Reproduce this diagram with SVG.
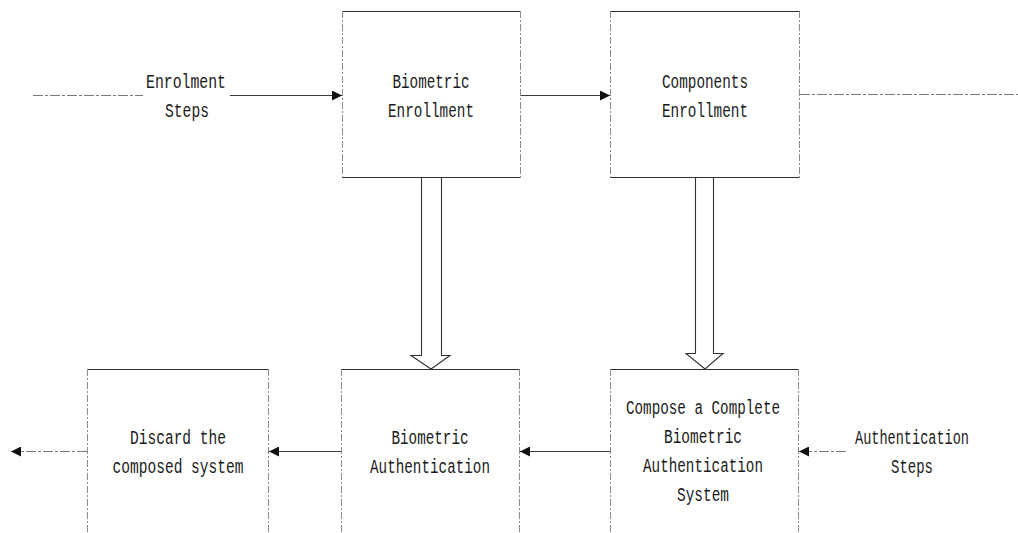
<svg xmlns="http://www.w3.org/2000/svg" width="1018" height="533" viewBox="0 0 1018 533">
  <style>
    .bg { fill: #ffffff; }
    .edge-h { fill: none; stroke: #2e2e2e; stroke-width: 1.2; }
    .edge-v { fill: none; stroke: #8c8c8c; stroke-width: 1; stroke-dasharray: 7 2 2 2; }
    .wire { fill: none; stroke: #3a3a3a; stroke-width: 1.1; }
    .wire-faint { fill: none; stroke: #7a7a7a; stroke-width: 1; stroke-dasharray: 10 2 3 2; }
    .hollow { fill: none; stroke: #333333; stroke-width: 1.1; }
    .lbl { font-family: "Liberation Mono", "DejaVu Sans Mono", monospace; font-size: 20.5px; fill: #1a1a1a; text-anchor: middle; }
  </style>
  <defs>
    <marker id="tri" viewBox="0 0 10 10" refX="10" refY="5" markerWidth="10" markerHeight="10" markerUnits="userSpaceOnUse" orient="auto">
      <path d="M0,0 L10,5 L0,10 z" fill="#111111"/>
    </marker>
  </defs>

  <rect class="bg" x="0" y="0" width="1018" height="533"/>

  <!-- process boxes -->
  <g id="biometric-enrollment">
    <path class="edge-h" d="M342,11.5 H521 M342,177.5 H521"/>
    <path class="edge-v" d="M342.5,11 V178 M520.5,11 V178"/>
    <text class="lbl" x="431" y="87.5" textLength="77" lengthAdjust="spacingAndGlyphs">Biometric</text>
    <text class="lbl" x="431" y="116.5" textLength="86" lengthAdjust="spacingAndGlyphs">Enrollment</text>
  </g>

  <g id="components-enrollment">
    <path class="edge-h" d="M610,11.5 H800 M610,177.5 H800"/>
    <path class="edge-v" d="M610.5,11 V178 M799.5,11 V178"/>
    <text class="lbl" x="705" y="87.5" textLength="86" lengthAdjust="spacingAndGlyphs">Components</text>
    <text class="lbl" x="705" y="116.5" textLength="86" lengthAdjust="spacingAndGlyphs">Enrollment</text>
  </g>

  <g id="discard-system">
    <path class="edge-h" d="M87,369.5 H269"/>
    <path class="edge-v" d="M87.5,369 V533 M268.5,369 V533"/>
    <text class="lbl" x="178" y="444" textLength="96" lengthAdjust="spacingAndGlyphs">Discard the</text>
    <text class="lbl" x="178" y="473" textLength="131" lengthAdjust="spacingAndGlyphs">composed system</text>
  </g>

  <g id="biometric-authentication">
    <path class="edge-h" d="M341,369.5 H520"/>
    <path class="edge-v" d="M341.5,369 V533 M519.5,369 V533"/>
    <text class="lbl" x="430" y="443.5" textLength="77" lengthAdjust="spacingAndGlyphs">Biometric</text>
    <text class="lbl" x="430" y="472.5" textLength="120" lengthAdjust="spacingAndGlyphs">Authentication</text>
  </g>

  <g id="compose-system">
    <path class="edge-h" d="M610,369.5 H799"/>
    <path class="edge-v" d="M610.5,369 V533 M798.5,369 V533"/>
    <text class="lbl" x="703" y="414" textLength="154" lengthAdjust="spacingAndGlyphs">Compose a Complete</text>
    <text class="lbl" x="703" y="443" textLength="78" lengthAdjust="spacingAndGlyphs">Biometric</text>
    <text class="lbl" x="703" y="472" textLength="120" lengthAdjust="spacingAndGlyphs">Authentication</text>
    <text class="lbl" x="703" y="501" textLength="52" lengthAdjust="spacingAndGlyphs">System</text>
  </g>

  <!-- connectors -->
  <g id="connectors">
    <!-- enrolment input -->
    <path class="wire-faint" d="M33,95.5 H143"/>
    <path class="wire" d="M230,95.5 H342" marker-end="url(#tri)"/>
    <text class="lbl" x="186" y="87.5" textLength="80" lengthAdjust="spacingAndGlyphs">Enrolment</text>
    <text class="lbl" x="187" y="116.5" textLength="44" lengthAdjust="spacingAndGlyphs">Steps</text>

    <!-- biometric enrollment to components enrollment -->
    <path class="wire" d="M521,95.5 H610" marker-end="url(#tri)"/>
    <!-- components enrollment output -->
    <path class="wire-faint" d="M800,94.5 H1018"/>

    <!-- hollow block arrows downward -->
    <path class="hollow" d="M421.5,178 V355.5 H411 L431,369 L450,355.5 H441.5 V178"/>
    <path class="hollow" d="M695.5,178 V353.5 H686 L705,369 L723,353.5 H713.5 V178"/>

    <!-- authentication chain, right to left -->
    <path class="wire" d="M610,451.5 H520" marker-end="url(#tri)"/>
    <path class="wire" d="M341,451.5 H269" marker-end="url(#tri)"/>
    <path class="wire-faint" d="M87,451.5 H11" marker-end="url(#tri)"/>
    <path class="wire-faint" d="M846,451.5 H799" marker-end="url(#tri)"/>
    <text class="lbl" x="912" y="443.5" textLength="114" lengthAdjust="spacingAndGlyphs">Authentication</text>
    <text class="lbl" x="912" y="472.5" textLength="42" lengthAdjust="spacingAndGlyphs">Steps</text>
  </g>
</svg>
